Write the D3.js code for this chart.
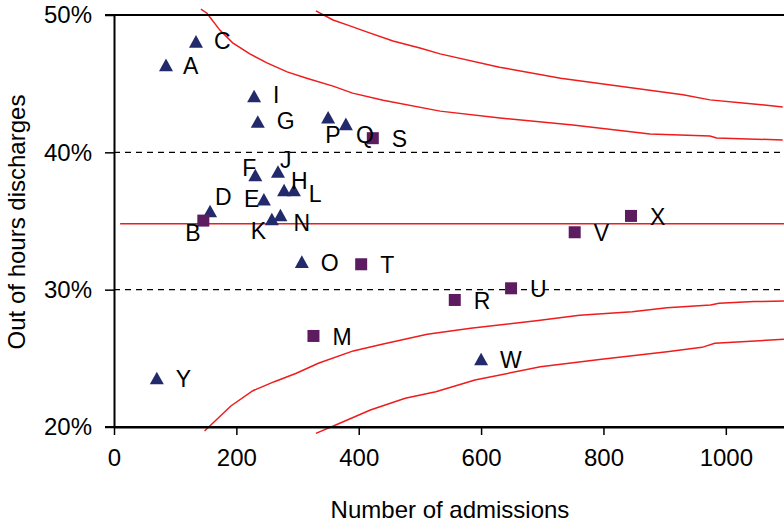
<!DOCTYPE html>
<html>
<head>
<meta charset="utf-8">
<script src="https://cdn.jsdelivr.net/npm/d3@7"></script>
<style>
  html, body { margin: 0; padding: 0; background: #fff; }
  svg { display: block; }
  text { font-family: Arial, "Liberation Sans", sans-serif; fill: #000; }
</style>
</head>
<body>
<svg id="chart" width="784" height="525"></svg>
<script>
// Hospitals: number of admissions and share discharged out of hours (%)
const hospitals   = ["A","B","C","D","E","F","G","H","I","J","K","L","M","N","O","P","Q","R","S","T","U","V","W","X","Y"];
const admissions  = [85, 146, 134, 157, 245, 231, 235, 278, 229, 268, 258, 294, 326, 272, 307, 350, 379, 557, 423, 404, 649, 753, 600, 845, 70];
const outOfHours  = [46.37, 35.03, 48.08, 35.73, 36.58, 38.35, 42.24, 37.26, 44.10, 38.60, 35.15, 37.26, 26.63, 35.44, 32.04, 42.56, 42.07, 29.25, 41.03, 31.85, 30.10, 34.18, 24.95, 35.37, 23.57];
const markerKind  = ["tri","sq","tri","tri","tri","tri","tri","tri","tri","tri","tri","tri","sq","tri","tri","tri","tri","sq","sq","sq","sq","sq","tri","sq","tri"];

// Overall mean and funnel control limits (admissions, %)
const meanPct = 34.8;
const meanRange = [10, 1100];
const upperInnerN   = [142, 152, 173, 194, 222, 250, 283, 315, 358, 390, 440, 533, 631, 750, 876, 974, 985, 1093];
const upperInnerPct = [50.42, 50.13, 48.90, 47.97, 47.17, 46.51, 45.86, 45.40, 44.82, 44.31, 43.80, 43.00, 42.50, 41.99, 41.33, 41.19, 41.04, 40.90];
const upperOuterN   = [330, 358, 381, 413, 456, 500, 533, 630, 730, 830, 930, 974, 1028, 1093];
const upperOuterPct = [50.30, 49.64, 49.28, 48.77, 48.11, 47.60, 47.17, 46.20, 45.40, 44.80, 44.20, 43.82, 43.60, 43.30];
const lowerInnerN   = [148, 191, 227, 262, 298, 334, 391, 440, 512, 583, 690, 761, 847, 904, 975, 989, 1046, 1095];
const lowerInnerPct = [19.71, 21.53, 22.64, 23.30, 23.91, 24.64, 25.54, 26.05, 26.75, 27.19, 27.74, 28.14, 28.40, 28.69, 28.89, 29.01, 29.13, 29.18];
const lowerOuterN   = [330, 369, 419, 476, 526, 590, 697, 797, 904, 961, 982, 1095];
const lowerOuterPct = [19.54, 20.27, 21.24, 22.09, 22.57, 23.42, 24.39, 24.93, 25.48, 25.80, 26.10, 26.39];

// Axis ticks
const xTicks = [0, 200, 400, 600, 800, 1000];
const yTicks = [20, 30, 40, 50];
const yGrid  = [30, 40];

// Label placement relative to the marker (px); others use the default
const labelDefault = { dx: 19, dy: 9 };
const labelPlace = {
  P: { dx: -3, dy: 26 }, Q: { dx: 10, dy: 19 }, F: { dx: -13, dy: 1 },
  J: { dx: 2, dy: -4 },  H: { dx: 7, dy: -1 },  L: { dx: 15, dy: 12 },
  E: { dx: -20, dy: 8 }, D: { dx: 5, dy: -6 },  B: { dx: -18, dy: 20 },
  K: { dx: -21, dy: 20 }, N: { dx: 13, dy: 16 }, I: { dx: 19, dy: 7 },
  G: { dx: 19, dy: 7 },  A: { dx: 17, dy: 9 },  C: { dx: 18, dy: 8 }
};

const svg = d3.select("#chart");
const x = d3.scaleLinear().domain([0, 1100]).range([114, 787]);
const y = d3.scaleLinear().domain([20, 50]).range([427, 15]);

// Dashed reference gridlines
svg.append("g").selectAll("line").data(yGrid).join("line")
  .attr("x1", x(0)).attr("x2", x(1100))
  .attr("y1", d => y(d)).attr("y2", d => y(d))
  .attr("stroke", "#000").attr("stroke-width", 1.3)
  .attr("stroke-dasharray", "6,5");

// Funnel lines
const line = d3.line().x(d => x(d[0])).y(d => y(d[1]));
const curves = [
  d3.zip(upperInnerN, upperInnerPct),
  d3.zip(upperOuterN, upperOuterPct),
  d3.zip(lowerInnerN, lowerInnerPct),
  d3.zip(lowerOuterN, lowerOuterPct),
  meanRange.map(n => [n, meanPct])
];
svg.append("g").selectAll("path").data(curves).join("path")
  .attr("d", line)
  .attr("fill", "none").attr("stroke", "#ee1c1c").attr("stroke-width", 1.5);

// Axes
const xAxis = d3.axisBottom(x).tickValues(xTicks).tickSize(8).tickPadding(14).tickSizeOuter(0)
  .tickFormat(d3.format("d"));
const gx = svg.append("g").attr("transform", `translate(0,${y(20)})`).call(xAxis);
gx.select(".domain").attr("stroke-width", 2);
gx.selectAll(".tick line").attr("stroke-width", 1.5);
gx.selectAll(".tick text").attr("font-size", 24).attr("dy", "0.71em");

const yAxis = d3.axisLeft(y).tickValues(yTicks).tickSize(9).tickPadding(13).tickSizeOuter(0)
  .tickFormat(d => d + "%");
const gy = svg.append("g").attr("transform", `translate(${x(0)},0)`).call(yAxis);
gy.select(".domain").attr("stroke-width", 2);
gy.selectAll(".tick line").attr("stroke-width", 1.5);
gy.selectAll(".tick text").attr("font-size", 24);

// Bottom axis line also spans under the y ticks; top frame line
svg.append("line").attr("x1", x(0) - 9).attr("x2", x(1100))
  .attr("y1", y(20)).attr("y2", y(20)).attr("stroke", "#000").attr("stroke-width", 2);
svg.append("line").attr("x1", x(0) - 9).attr("x2", x(1100))
  .attr("y1", y(50)).attr("y2", y(50)).attr("stroke", "#000").attr("stroke-width", 2);
svg.selectAll(".domain, .tick line").attr("stroke", "#000");
svg.selectAll(".tick text").attr("fill", "#000").attr("font-family", "Arial, 'Liberation Sans', sans-serif");

// Markers
const pts = hospitals.map((h, i) => ({ h, n: admissions[i], p: outOfHours[i], k: markerKind[i] }));
const gm = svg.append("g");
gm.selectAll("path.tri").data(pts.filter(d => d.k === "tri")).join("path")
  .attr("class", "tri")
  .attr("d", d => {
    const cx = x(d.n), cy = y(d.p);
    return `M${cx - 7},${cy + 6.3}L${cx + 7},${cy + 6.3}L${cx},${cy - 6.3}Z`;
  })
  .attr("fill", "#222a6c");
gm.selectAll("rect.sq").data(pts.filter(d => d.k === "sq")).join("rect")
  .attr("class", "sq")
  .attr("x", d => x(d.n) - 6).attr("y", d => y(d.p) - 6)
  .attr("width", 12).attr("height", 12)
  .attr("fill", "#5e1c60");

// Marker labels
svg.append("g").selectAll("text").data(pts).join("text")
  .attr("x", d => x(d.n) + (labelPlace[d.h] || labelDefault).dx)
  .attr("y", d => y(d.p) + (labelPlace[d.h] || labelDefault).dy)
  .attr("font-size", 23)
  .text(d => d.h);

// Axis titles
svg.append("text").attr("x", 450).attr("y", 518).attr("text-anchor", "middle")
  .attr("font-size", 24).text("Number of admissions");
svg.append("text").attr("transform", `translate(25,222) rotate(-90)`).attr("text-anchor", "middle")
  .attr("font-size", 24).text("Out of hours discharges");
</script>
</body>
</html>
